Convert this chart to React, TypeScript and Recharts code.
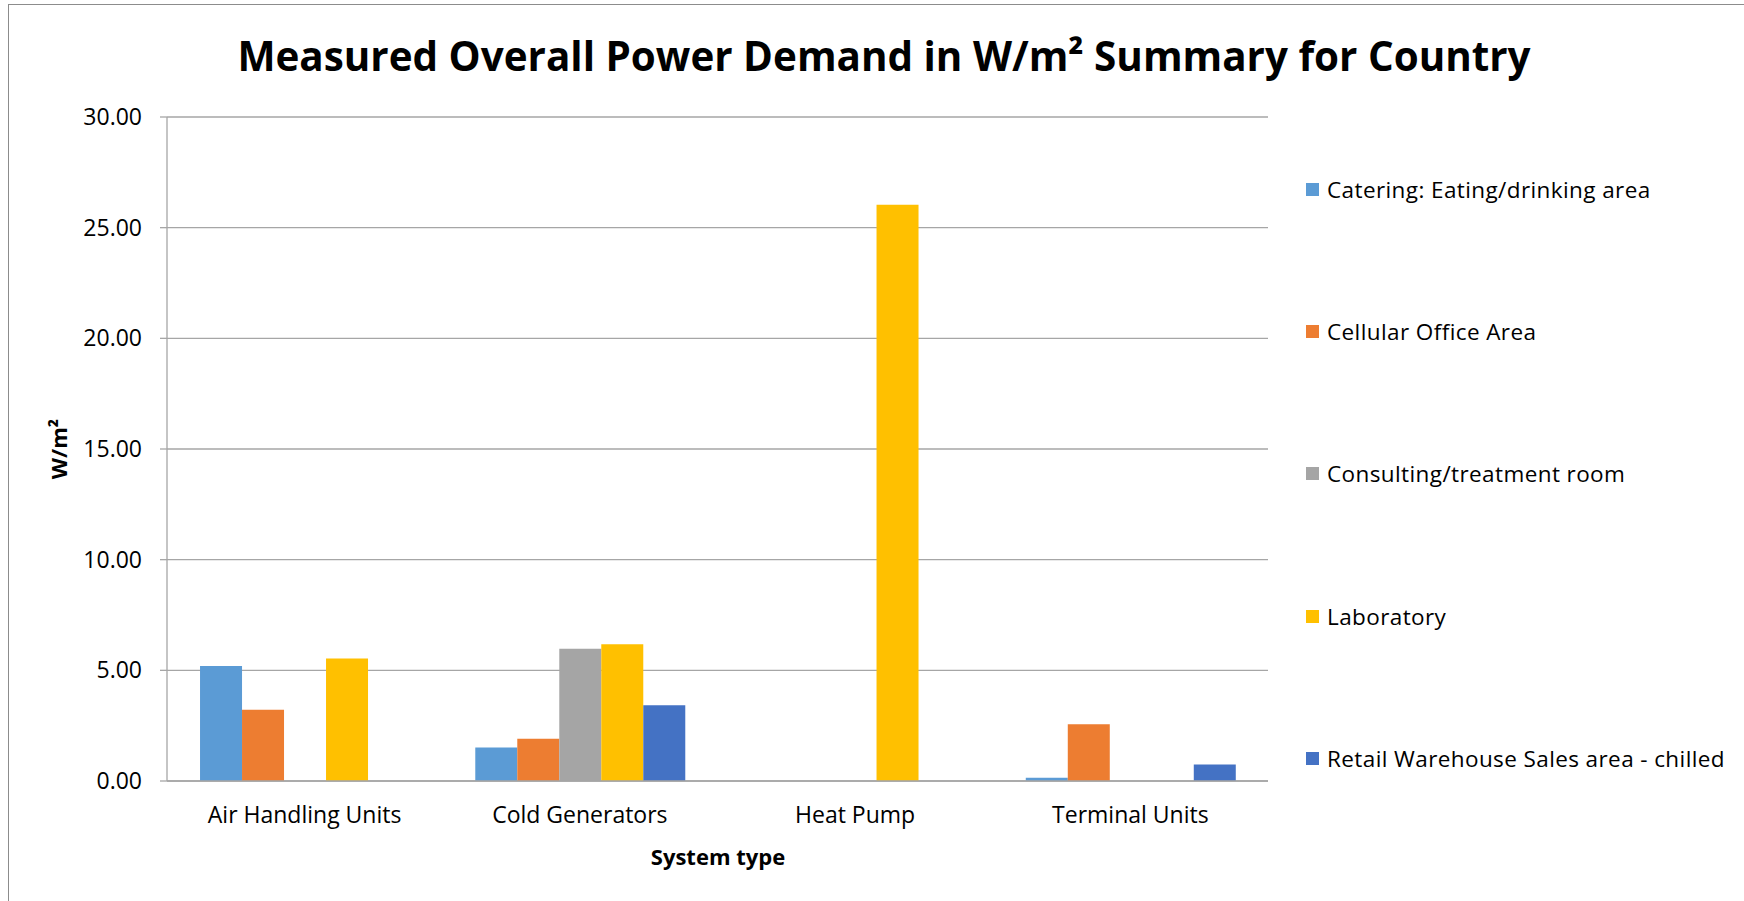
import React from "react";
import { BarChart, Bar, XAxis, YAxis, CartesianGrid } from "recharts";

// Valeurs (W/m²)
const systemTypes = ["Air Handling Units", "Cold Generators", "Heat Pump", "Terminal Units"];
const catering = [5.2, 1.51, null, 0.15];
const cellularOffice = [3.22, 1.91, null, 2.56];
const consulting = [null, 5.98, null, null];
const laboratory = [5.53, 6.18, 26.03, null];
const retailChilled = [null, 3.42, null, 0.75];
const yTicks = [0, 5, 10, 15, 20, 25, 30];

const series = [
  { key: "catering", name: "Catering: Eating/drinking area", color: "#5B9BD5", values: catering },
  { key: "cellular", name: "Cellular Office Area", color: "#ED7D31", values: cellularOffice },
  { key: "consulting", name: "Consulting/treatment room", color: "#A5A5A5", values: consulting },
  { key: "laboratory", name: "Laboratory", color: "#FFC000", values: laboratory },
  { key: "retail", name: "Retail Warehouse Sales area - chilled", color: "#4472C4", values: retailChilled },
];

const data = systemTypes.map((t, i) => {
  const row: any = { type: t };
  series.forEach((s) => (row[s.key] = s.values[i]));
  return row;
});

const FONT = "'Open Sans', sans-serif";
const GRID = "#A6A6A6";

// légende à droite, faite à la main (espacement régulier comme dans Excel)
function LegendBox() {
  return (
    <div style={{ position: "absolute", left: 1297, top: 184, width: 440, height: 620 }}>
      {series.map((s, i) => (
        <div
          key={s.key}
          style={{
            position: "absolute",
            left: 0,
            top: i * 142.4 - 14,
            height: 28,
            display: "flex",
            alignItems: "center",
            whiteSpace: "nowrap",
            fontFamily: FONT,
            fontSize: 22.5,
            letterSpacing: 0.4,
            color: "#000",
          }}
        >
          <span style={{ display: "inline-block", width: 13, height: 13, background: s.color, marginRight: 8 }} />
          {s.name}
        </div>
      ))}
    </div>
  );
}

export default function App() {
  return (
    <div
      style={{
        position: "absolute",
        left: 8,
        top: 4,
        width: 1735,
        height: 896,
        border: "1px solid #8C8C8C",
        background: "#fff",
        fontFamily: FONT,
        overflow: "hidden",
      }}
    >
      <div
        style={{
          position: "absolute",
          left: 0,
          width: 1750,
          top: 51 - 28,
          height: 56,
          lineHeight: "56px",
          textAlign: "center",
          fontWeight: 700,
          fontSize: 40.4,
          color: "#000",
          whiteSpace: "nowrap",
        }}
      >
        Measured Overall Power Demand in W/m² Summary for Country
      </div>
      <div
        style={{
          position: "absolute",
          left: 49 - 50,
          top: 444 - 15,
          width: 100,
          height: 30,
          lineHeight: "30px",
          textAlign: "center",
          fontWeight: 700,
          fontSize: 22,
          transform: "rotate(-90deg)",
        }}
      >
        W/m²
      </div>
      <div
        style={{
          position: "absolute",
          left: 709 - 100,
          top: 851 - 15,
          width: 200,
          height: 30,
          lineHeight: "30px",
          textAlign: "center",
          fontWeight: 700,
          fontSize: 22,
        }}
      >
        System type
      </div>
      <LegendBox />
      <BarChart
        width={1735}
        height={896}
        data={data}
        margin={{ top: 112, right: 476, bottom: 70, left: 78 }}
        barCategoryGap="12%"
        barGap={0}
      >
        <CartesianGrid vertical={false} stroke={GRID} strokeWidth={1.3} />
        <XAxis
          dataKey="type"
          height={50}
          axisLine={{ stroke: GRID, strokeWidth: 1.3 }}
          tickLine={false}
          tickSize={0}
          tickMargin={26}
          tick={{ fill: "#000", fontSize: 23, fontFamily: FONT }}
        />
        <YAxis
          width={80}
          domain={[0, 30]}
          ticks={yTicks}
          interval={0}
          tickFormatter={(v: number) => v.toFixed(2)}
          axisLine={{ stroke: GRID, strokeWidth: 1.3 }}
          tickLine={{ stroke: GRID, strokeWidth: 1.3 }}
          tickSize={7}
          tickMargin={18}
          tick={{ fill: "#000", fontSize: 23, fontFamily: FONT }}
        />
        {series.map((s) => (
          <Bar key={s.key} dataKey={s.key} name={s.name} fill={s.color} isAnimationActive={false} />
        ))}
      </BarChart>
    </div>
  );
}
